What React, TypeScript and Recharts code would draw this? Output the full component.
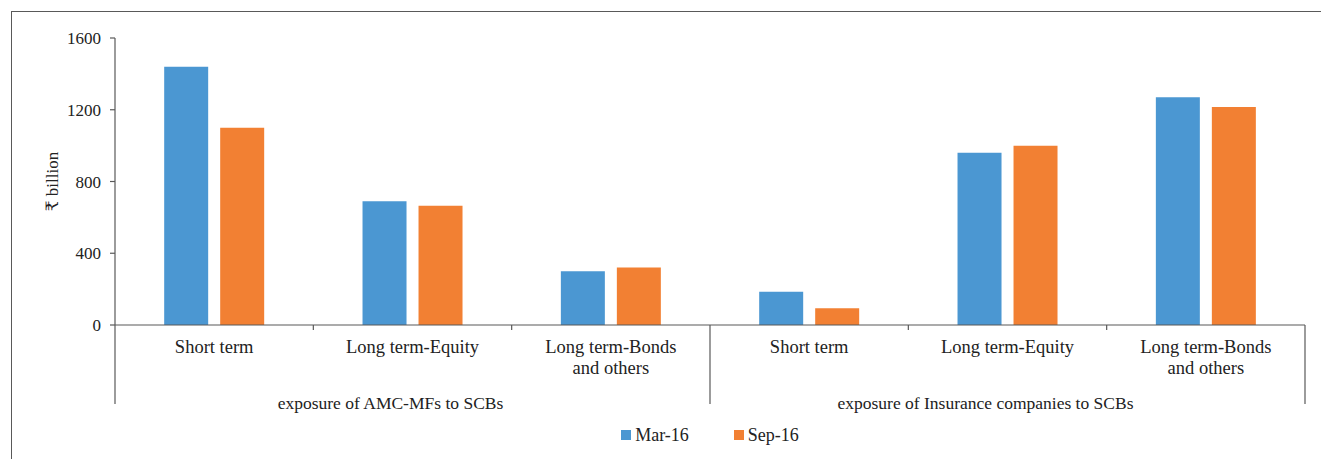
import React from 'react';
import { BarChart, Bar, XAxis, YAxis, Legend } from 'recharts';

// --- data ---
const categories = [
  'Short term',
  'Long term-Equity',
  'Long term-Bonds\nand others',
  'Short term',
  'Long term-Equity',
  'Long term-Bonds\nand others',
];
const groupOf = [
  'exposure of AMC-MFs to SCBs',
  'exposure of AMC-MFs to SCBs',
  'exposure of AMC-MFs to SCBs',
  'exposure of Insurance companies to SCBs',
  'exposure of Insurance companies to SCBs',
  'exposure of Insurance companies to SCBs',
];
const mar16 = [1440, 690, 300, 185, 960, 1270];
const sep16 = [1100, 665, 320, 93, 1000, 1215];
const yTicks = [0, 400, 800, 1200, 1600];

const BLUE = '#4b97d2';
const ORANGE = '#f28033';
const INK = '#222';
const AXIS = '#595959';
const FONT = '"Liberation Serif", "DejaVu Serif", serif';

const data = categories.map((cat, i) => ({
  id: i,
  cat,
  group: groupOf[i],
  mar: mar16[i],
  sep: sep16[i],
}));

const CategoryTick = (props: any) => {
  const { x, y, payload, index } = props;
  const half = payload?.offset ?? 99;
  const lines = String(payload.value).split('\n');
  const left = x - half;
  const long = index === 0 || index === 3;
  return (
    <g>
      <line x1={left} x2={left} y1={y} y2={long ? y + 79 : y + 5} stroke={AXIS} strokeWidth={1.2} />
      {index === categories.length - 1 && (
        <line x1={x + half} x2={x + half} y1={y} y2={y + 79} stroke={AXIS} strokeWidth={1.2} />
      )}
      <text x={x} y={y + 28} textAnchor="middle" fill={INK} fontSize={18.5} fontFamily={FONT}>
        {lines.map((l, k) => (
          <tspan key={k} x={x} dy={k === 0 ? 0 : 21}>
            {l}
          </tspan>
        ))}
      </text>
    </g>
  );
};

const GroupTick = (props: any) => {
  const { x, y, payload } = props;
  return (
    <text x={x - 22} y={y + 22} textAnchor="middle" fill={INK} fontSize={17.5} fontFamily={FONT}>
      {payload.value}
    </text>
  );
};

const LegendContent = () => (
  <div
    style={{
      display: 'flex',
      justifyContent: 'center',
      alignItems: 'center',
      height: 36,
      fontFamily: FONT,
      fontSize: 18,
      color: INK,
      gap: 45,
    }}
  >
    {[
      { name: 'Mar-16', color: BLUE },
      { name: 'Sep-16', color: ORANGE },
    ].map((it) => (
      <div key={it.name} style={{ display: 'flex', alignItems: 'center' }}>
        <span style={{ width: 10, height: 10, background: it.color, marginRight: 4, display: 'inline-block' }} />
        <span>{it.name}</span>
      </div>
    ))}
  </div>
);

export default function App() {
  return (
    <div style={{ position: 'relative', width: 1321, height: 459, overflow: 'hidden', background: '#fff' }}>
      <style>{`body{margin:0;overflow:hidden}`}</style>
      <div
        style={{
          position: 'absolute',
          left: 11,
          top: 11,
          width: 1400,
          height: 500,
          borderTop: `1.3px solid ${AXIS}`,
          borderLeft: `1.3px solid ${AXIS}`,
        }}
      />
      <div style={{ position: 'absolute', left: 0, top: 0 }}>
        <BarChart
          width={1321}
          height={459}
          data={data}
          margin={{ top: 38, right: 16, left: 10, bottom: 6 }}
          barGap={12}
          barCategoryGap="24.8%"
        >
          <XAxis
            dataKey="cat"
            height={62}
            tickLine={false}
            tickSize={0}
            tickMargin={0}
            axisLine={{ stroke: AXIS, strokeWidth: 1.2 }}
            tick={<CategoryTick />}
            interval={0}
          />
          <XAxis
            xAxisId="grp"
            dataKey="group"
            allowDuplicatedCategory={false}
            height={30}
            axisLine={false}
            tickLine={false}
            tickSize={0}
            tickMargin={0}
            tick={<GroupTick />}
            interval={0}
          />
          <YAxis
            width={105}
            domain={[0, 1600]}
            ticks={yTicks}
            tickSize={5}
            tickMargin={9}
            axisLine={{ stroke: AXIS, strokeWidth: 1.2 }}
            tickLine={{ stroke: AXIS, strokeWidth: 1.2 }}
            tick={{ fill: INK, fontSize: 17, fontFamily: FONT }}
            label={({ viewBox }: any) => {
              const cx = viewBox.x + 42;
              const cy = viewBox.y + viewBox.height / 2;
              return (
                <text
                  x={cx}
                  y={cy}
                  transform={`rotate(-90 ${cx} ${cy})`}
                  textAnchor="middle"
                  dominantBaseline="central"
                  fill={INK}
                  fontSize={17}
                  fontFamily={FONT}
                >
                  ₹ billion
                </text>
              );
            }}
          />
          <Legend
            verticalAlign="bottom"
            content={<LegendContent />}
            wrapperStyle={{ left: 115, width: 1190 }}
          />
          <Bar dataKey="mar" name="Mar-16" fill={BLUE} isAnimationActive={false} />
          <Bar dataKey="sep" name="Sep-16" fill={ORANGE} isAnimationActive={false} />
        </BarChart>
      </div>
    </div>
  );
}
